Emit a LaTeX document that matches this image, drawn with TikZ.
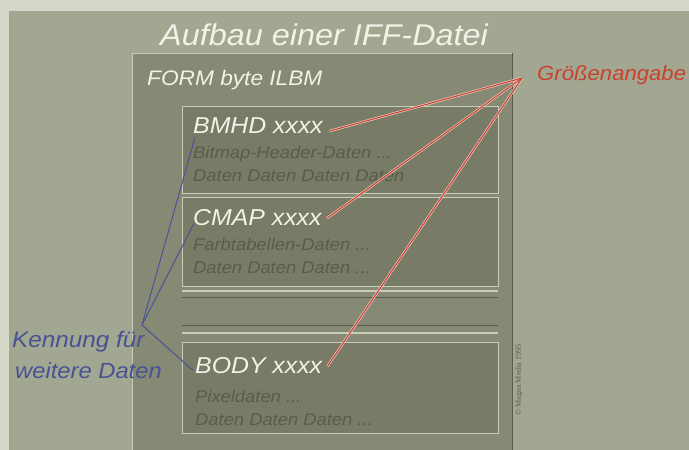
\documentclass[tikz,border=0pt]{standalone}
\usepackage{fontspec}
\newfontfamily\hv{Liberation Sans}[FakeStretch=1.08]
\newfontfamily\cpy{Liberation Serif}
\definecolor{topbg}{RGB}{214,216,202}
\definecolor{panel}{RGB}{162,167,146}
\definecolor{formfill}{RGB}{134,138,116}
\definecolor{boxfill}{RGB}{120,124,103}
\definecolor{lightln}{RGB}{200,204,184}
\definecolor{darkln}{RGB}{88,92,74}
\definecolor{graytxt}{RGB}{88,92,74}
\definecolor{whitetxt}{RGB}{242,242,232}
\definecolor{redtxt}{RGB}{200,66,44}
\definecolor{bluetxt}{RGB}{72,82,148}
\begin{document}
\begin{tikzpicture}[x=1pt,y=-1pt,
  lbl/.style={anchor=base west,inner sep=0pt,font=\hv\itshape},
  head/.style={lbl,text=whitetxt,font=\hv\itshape\fontsize{23}{27}\selectfont},
  sub/.style={lbl,text=graytxt,font=\hv\itshape\fontsize{17}{20}\selectfont},
  chunk/.style={draw=lightln,line width=1.1pt,fill=boxfill,anchor=north west,inner sep=0pt,minimum width=316pt,minimum height=88pt},
  blueln/.style={draw=bluetxt,line width=1pt},
  redhalo/.style={draw=white!75!redtxt,line width=2.4pt},
  redln/.style={draw=redtxt,line width=1.1pt}]
\useasboundingbox (0,0) rectangle (689,450);
\fill[topbg] (0,0) rectangle (689,450);
\fill[panel] (9,11) rectangle (689,450);
% FORM container
\node[fill=formfill,anchor=north west,inner sep=0pt,minimum width=380pt,minimum height=400pt] (form) at (132,53) {};
\draw[lightln,line width=1pt] (form.south west) -- (form.north west) -- (form.north east);
\draw[darkln,line width=1pt] (form.north east) -- (form.south east);
% title
\node[lbl,text=whitetxt,font=\hv\itshape\fontsize{30}{34}\selectfont] (title) at (160,45) {Aufbau einer IFF-Datei};
\node[lbl,text=whitetxt,font=\hv\itshape\fontsize{21}{25}\selectfont] (formt) at (147,85) {FORM byte ILBM};
% chunks
\node[chunk,minimum height=87pt] (bmhd) at (182,106) {};
\node[chunk,minimum height=89pt] (cmap) at (182,197) {};
\node[chunk,minimum height=91pt] (body) at (182,342) {};
% separator lines
\draw[lightln,line width=1.1pt] (182,291) -- (498,291);
\draw[darkln,line width=1pt] (182,297) -- (498,297);
\draw[darkln,line width=1pt] (182,325) -- (498,325);
\draw[lightln,line width=1.1pt] (182,333) -- (498,333);
% chunk texts
\node[head] (bmhdt) at (193,133) {BMHD xxxx};
\node[sub] (bmhds1) at (193,158) {Bitmap-Header-Daten ...};
\node[sub] (bmhds2) at (193,181) {Daten Daten Daten Daten};
\node[head] (cmapt) at (193,225) {CMAP xxxx};
\node[sub] (cmaps1) at (193,250) {Farbtabellen-Daten ...};
\node[sub] (cmaps2) at (193,273) {Daten Daten Daten ...};
\node[head] (bodyt) at (195,373) {BODY xxxx};
\node[sub] (bodys1) at (195,402) {Pixeldaten ...};
\node[sub] (bodys2) at (195,425) {Daten Daten Daten ...};
% side labels
\node[lbl,text=redtxt,font=\hv\itshape\fontsize{20.5}{24}\selectfont] (groesse) at (537,80) {Größenangabe};
\node[lbl,text=bluetxt,font=\hv\itshape\fontsize{22.5}{26}\selectfont] (kenn1) at (12,347) {Kennung für};
\node[lbl,text=bluetxt,font=\hv\itshape\fontsize{22}{26}\selectfont] (kenn2) at (15,378) {weitere Daten};
\node[text=darkln,font=\cpy\fontsize{8}{9}\selectfont,rotate=90,inner sep=0pt] (copy) at (519,380) {© Magna Media 1995};
% hubs
\coordinate (bhub) at (142,325);
\coordinate (rhub) at (522,78);
% blue connectors
\draw[blueln] (bhub) -- ([shift={(2,4)}]bmhdt.south west);
\draw[blueln] (bhub) -- ([shift={(1,-2)}]cmapt.south west);
\draw[blueln] (bhub) -- ([shift={(-2,-3)}]bodyt.south west);
% red connectors
\foreach \t/\dx/\dy in {bmhdt/6/-2, cmapt/5/-7, bodyt/5/-7} {
  \draw[redhalo] (rhub) -- ([shift={(\dx,\dy)}]\t.south east);
}
\foreach \t/\dx/\dy in {bmhdt/6/-2, cmapt/5/-7, bodyt/5/-7} {
  \draw[redln] (rhub) -- ([shift={(\dx,\dy)}]\t.south east);
}
\end{tikzpicture}
\end{document}
